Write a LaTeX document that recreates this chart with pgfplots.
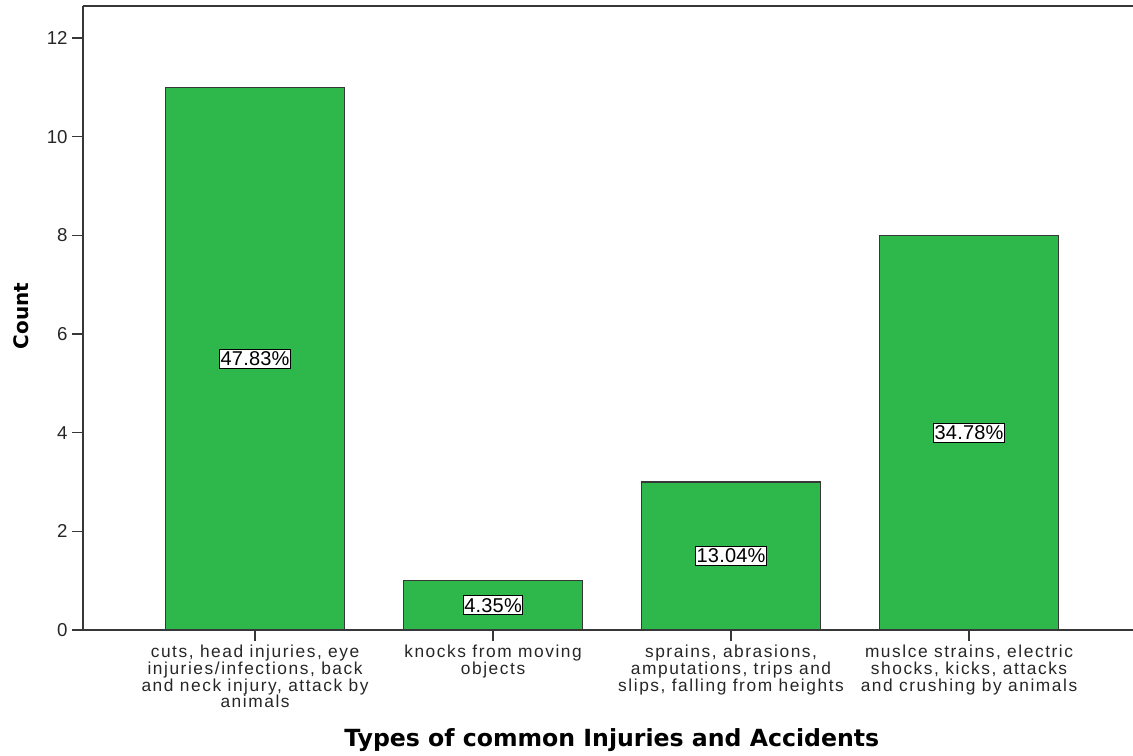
\documentclass[border=0pt]{standalone}
\usepackage{fontspec}
\setmainfont{Liberation Sans}
\newfontfamily\catfont[LetterSpace=9]{Liberation Sans}
\newfontfamily\pctfont[LetterSpace=1]{Liberation Sans}
\newfontfamily\titlefont{DejaVu Sans}
\usepackage{pgfplots}
\pgfplotsset{compat=1.18}
\usetikzlibrary{calc}
\definecolor{bargreen}{RGB}{46,184,75}
\definecolor{axisgray}{RGB}{55,55,55}
\begin{document}
\begin{tikzpicture}
    \begin{axis}[
        name=ax, at={(0,0)}, anchor=south west,
        width=787.5pt, height=468pt, scale only axis,
        xmin=0.277, xmax=4.689, ymin=0, ymax=12.65,
        axis lines=left,
        axis line style={-, draw=axisgray, line width=1.1pt},
        xtick={1,2,3,4}, ytick={0,2,...,12},
        tick align=outside, major tick length=8pt,
        tick style={draw=axisgray, line width=1.1pt},
        /pgf/number format/assume math mode=true,
        yticklabel style={font=\fontsize{14}{16}\selectfont, text=black!85},
        xticklabels={
            {cuts, head injuries, eye\\injuries/infections, back\\and neck injury, attack by\\animals},
            {knocks from moving\\objects},
            {sprains, abrasions,\\amputations, trips and\\slips, falling from heights},
            {muslce strains, electric\\shocks, kicks, attacks\\and crushing by animals}},
        xticklabel style={align=center, anchor=north, text=black!85,
            font=\catfont\fontsize{13}{12.5}\selectfont},
        clip=false,
    ]
        \addplot[ybar, bar width=0.75, fill=bargreen, draw=axisgray, line width=1pt]
            coordinates {(1,11) (2,1) (3,3) (4,8)};
        \addplot[draw=none, nodes near coords, point meta=explicit symbolic,
            nodes near coords style={anchor=center, fill=white, draw=black,
                line width=0.7pt, inner xsep=0.8pt, inner ysep=1.8pt,
                font=\pctfont\fontsize{15}{16}\selectfont}]
            coordinates {(1,5.5) [47.83\%] (2,0.5) [4.35\%] (3,1.5) [13.04\%] (4,4) [34.78\%]};
        \draw[axisgray, line width=1.1pt] (rel axis cs:0,1) -- (rel axis cs:1,1);
    \end{axis}
    \node[rotate=90, font=\titlefont\bfseries\fontsize{15}{18}\selectfont]
        at ($(ax.west)+(-46.5pt,1.5pt)$) {Count};
    \node[anchor=base, font=\titlefont\bfseries\fontsize{17.7}{20}\selectfont]
        at ($(ax.south)+(2.8pt,-87.5pt)$) {Types of common Injuries and Accidents};
    \pgfresetboundingbox
    \path[use as bounding box] ($(ax.south west)+(-62.25pt,-93.75pt)$) rectangle ($(ax.north east)+(0,4.5pt)$);
\end{tikzpicture}
\end{document}
